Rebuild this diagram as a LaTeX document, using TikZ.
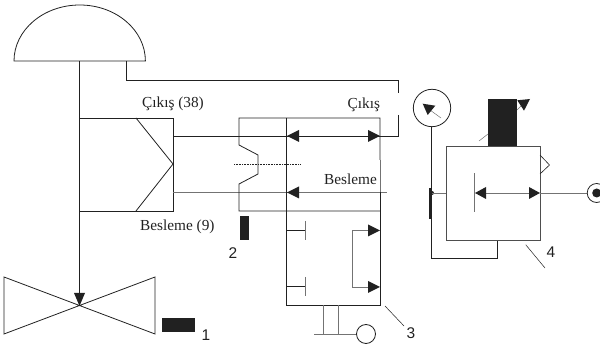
\documentclass[tikz,border=0pt]{standalone}
\usepackage{fontspec}
\setmainfont{Liberation Serif}
\newfontfamily\numfont{Liberation Sans}
\definecolor{ink}{gray}{0.13}
\definecolor{soft}{gray}{0.45}
\tikzset{
  ln/.style={draw=ink,line width=0.8pt},
  thin gray/.style={draw=soft,line width=0.5pt},
  tip/.style={fill=ink,draw=none},
  lab/.style={font=\fontsize{15.3}{17}\selectfont,text=ink,inner sep=0pt,anchor=base west},
  num/.style={font=\numfont\fontsize{15.5}{17}\selectfont,text=ink,inner sep=0pt,anchor=base},
  blk/.style={fill=ink,draw=none}
}
\begin{document}
\begin{tikzpicture}[x=1pt,y=-1pt]
\useasboundingbox (0,0) rectangle (600,344);
% actuator
\draw[ln] (14,61) arc[start angle=180,end angle=0,x radius=65.7,y radius=-56] -- cycle;
\draw[ln] (79.5,61) -- (79.5,295);
\fill[tip] (79.5,306) -- (74,293) -- (85,293) -- cycle;
\draw[ln] (4,277) -- (155,334) -- (155,277) -- (4,334) -- cycle;
\fill[blk] (162,318) rectangle (195,332);
\node[num] (n1) at (206,341) {1};
% positioner body
\draw[ln] (79.5,118) rectangle (173,211);
\draw[ln] (136,118) -- (173,164) -- (136,211);
\node[lab] (t1) at (142,108) {Çıkış (38)};
\node[lab] (t2) at (140,231) {Besleme (9)};
% signal line
\draw[ln] (126,61) -- (126,80) -- (398.7,80) -- (398.7,93);
\draw[ln] (398.7,115) -- (398.7,136) -- (173,136);
\draw[ln,draw=soft] (173,192.5) -- (387,192.5);
\node[lab] (t3) at (347.5,109) {Çıkış};
\node[lab] (t4) at (324,185) {Besleme};
% block
\draw[ln] (380,160) -- (380,118) -- (239,118) -- (239,145) -- (258,155) -- (258,174) -- (239,184) -- (239,211) -- (380,211);
\draw[ln] (286.5,118) -- (286.5,305) -- (380,305) -- (380,192);
\draw[thin gray] (380,160) -- (380,192);
\draw[ink,dash pattern=on 0.8pt off 0.8pt,line width=0.45pt] (234,164) -- (301,164);
\fill[tip] (287,136) -- (299,130) -- (299,142) -- cycle;
\fill[tip] (380,136) -- (368,130) -- (368,142) -- cycle;
\fill[tip] (287,192.5) -- (299,186.5) -- (299,198.5) -- cycle;
\fill[blk] (240,216) rectangle (249,240);
\node[num] (n2) at (233,259) {2};
% lower block
\draw[ln] (286.5,230.5) -- (305,230.5);
\draw[ln,draw=soft] (305,221) -- (305,240);
\draw[ln] (286.5,286.5) -- (305,286.5);
\draw[ln,draw=soft] (305,277) -- (305,296);
\draw[ln,draw=soft] (370,230.5) -- (352,230.5) -- (352,287) -- (370,287);
\fill[tip] (380,230.5) -- (368,224.5) -- (368,236.5) -- cycle;
\fill[tip] (380,287) -- (368,281) -- (368,293) -- cycle;
\draw[ln,draw=soft] (323.5,305) -- (323.5,334);
\draw[ln,draw=soft] (338,305) -- (338,334);
\draw[ln,draw=soft] (314,334) -- (356.5,334);
\draw[ln] (366,334) circle[radius=9.5];
\draw[thin gray,draw=ink] (385,306) -- (404,326);
\node[num] (n3) at (411,339) {3};
% gauge
\draw[ln] (432,108) circle[radius=18.7];
\draw[thin gray] (430,110) -- (441,118);
\fill[tip] (422.7,103.7) -- (435.3,105.7) -- (427.7,115) -- cycle;
\draw[ln] (431.7,126.7) -- (431.7,258.7) -- (497.7,258.7) -- (497.7,240);
\draw[ln,line width=1.2pt] (430,188) -- (430,219);
\fill[ink] (432,193) circle[radius=2];
\draw[ln,draw=soft] (432,193) -- (446,193);
% right unit
\draw[ln,draw=ink!80] (446,146) rectangle (540,240);
\fill[blk] (488,99) rectangle (517,146);
\draw[thin gray] (479,141) -- (488,134);
\draw[thin gray] (517,110) -- (522,105);
\fill[tip] (517.3,100.3) -- (530,99) -- (524,110.7) -- cycle;
\draw[ln,line width=0.6pt] (540,155) -- (549.5,165) -- (540,174);
\draw[ln,draw=soft] (474,173.5) -- (474,212);
\draw[ln,draw=soft] (486,193) -- (529,193);
\fill[tip] (475,193) -- (486,187) -- (486,199) -- cycle;
\fill[tip] (540,193) -- (529,187) -- (529,199) -- cycle;
\draw[ln,draw=soft] (540,193) -- (587,193);
\draw[ln] (596.7,193) circle[radius=9.5];
\fill[ink] (596.7,193) circle[radius=4.5];
\draw[thin gray,draw=ink] (525.7,244.7) -- (545,268);
\node[num] (n4) at (551,258) {4};
\end{tikzpicture}
\end{document}
